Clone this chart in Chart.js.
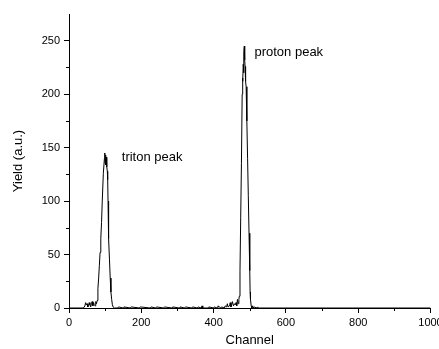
<!DOCTYPE html>
<html>
<head>
<meta charset="utf-8">
<script src="https://cdn.jsdelivr.net/npm/chart.js@4/dist/chart.umd.min.js"></script>
<style>
  html, body { margin: 0; padding: 0; background: #fff; }
  #wrap { width: 439px; height: 349px; }
</style>
</head>
<body>
<div id="wrap"><canvas id="myChart" width="439" height="349"></canvas></div>
<script>
// spectrum (channel, yield)
const channels = [
  0, 40, 44, 46, 48, 50, 52, 54, 56, 58, 60, 62, 64, 66, 68, 70, 72, 74, 76, 78,
  80, 82, 84, 86, 88, 90, 92, 95, 98, 99, 100, 101, 102, 103, 104, 105, 106, 107, 108, 109,
  110, 112, 114, 116, 118, 120, 122, 126, 135, 137, 150, 152, 170, 172, 195, 197, 225, 227, 240, 242,
  262, 264, 285, 287, 305, 307, 320, 322, 340, 342, 355, 357, 366, 368, 370, 385, 387, 400, 402, 410,
  412, 420, 422, 430, 432, 436, 438, 440, 444, 446, 448, 450, 452, 455, 458, 460, 462, 464, 466, 468,
  470, 471, 473, 475, 477, 479, 480, 481, 482, 483, 484, 485, 486, 487, 488, 489, 490, 492, 494, 496,
  498, 500, 501, 502, 504, 506, 508, 510, 512, 520, 522, 524, 1000
];
const counts = [
  0, 0, 2, 5, 3, 4, 1, 2, 5, 3, 1, 4, 6, 2, 5, 3, 2, 6, 4, 7,
  18, 28, 40, 52, 65, 80, 100, 126, 140, 145, 136, 143, 134, 141, 137, 132, 128, 120, 100, 80,
  65, 45, 28, 15, 8, 3, 1, 0, 0, 1, 0, 1, 0, 1, 0, 1, 0, 1, 0, 1,
  0, 1, 0, 1, 0, 1, 0, 1, 0, 1, 0, 1, 0, 2, 0, 0, 1, 0, 1, 0,
  2, 0, 1, 0, 2, 1, 4, 1, 2, 5, 1, 3, 6, 2, 4, 3, 5, 2, 8, 4,
  8, 11, 35, 85, 135, 200, 215, 212, 228, 220, 240, 245, 232, 226, 218, 212, 207, 175, 140, 105,
  70, 35, 15, 8, 2, 0, 2, 0, 1, 0, 1, 0, 0
];

const xTicksMinor = [100, 300, 500, 700, 900];
const yTicksMinor = [25, 75, 125, 175, 225];

const noteTexts = ['triton peak', 'proton peak'];
const noteX = [146, 513];
const noteY = [141, 239];

const points = channels.map((c, i) => ({ x: c, y: counts[i] }));

Chart.defaults.font.family = '"Liberation Sans", Arial, sans-serif';
Chart.defaults.color = '#000';

const extras = {
  id: 'extras',
  afterDraw(chart) {
    const ctx = chart.ctx;
    const xs = chart.scales.x, ys = chart.scales.y;
    ctx.save();
    ctx.strokeStyle = '#000';
    ctx.lineWidth = 1;
    ctx.beginPath();
    xTicksMinor.forEach(v => {
      const px = Math.round(xs.getPixelForValue(v)) + 0.5;
      ctx.moveTo(px, xs.top);
      ctx.lineTo(px, xs.top + 3);
    });
    yTicksMinor.forEach(v => {
      const py = Math.round(ys.getPixelForValue(v)) + 0.5;
      ctx.moveTo(ys.right, py);
      ctx.lineTo(ys.right - 3, py);
    });
    ctx.stroke();
    ctx.fillStyle = '#000';
    ctx.font = '13px "Liberation Sans", Arial, sans-serif';
    ctx.textAlign = 'left';
    ctx.textBaseline = 'middle';
    noteTexts.forEach((t, i) => {
      ctx.fillText(t, xs.getPixelForValue(noteX[i]), ys.getPixelForValue(noteY[i]));
    });
    ctx.restore();
  }
};

const ctx = document.getElementById('myChart').getContext('2d');
const chart = new Chart(ctx, {
  type: 'line',
  data: {
    datasets: [{
      data: points,
      borderColor: '#000',
      borderWidth: 1,
      pointRadius: 0,
      tension: 0,
      fill: false
    }]
  },
  options: {
    responsive: false,
    animation: false,
    layout: { padding: { left: 11, top: 14, right: 8.5, bottom: 0 } },
    plugins: { legend: { display: false }, tooltip: { enabled: false } },
    scales: {
      x: {
        type: 'linear',
        min: 0,
        max: 1000,
        ticks: { stepSize: 200, padding: 3, font: { size: 11 }, maxRotation: 0, callback: v => String(v) },
        grid: { drawOnChartArea: false, tickLength: 5, tickColor: '#000' },
        border: { display: true, color: '#000', width: 1 },
        title: { display: true, text: 'Channel', font: { size: 13 }, padding: { top: 0, bottom: 1 } },
        afterFit(scale) {
          scale.height = 41;
          scale.paddingLeft = 0;
          scale.paddingRight = 0;
        }
      },
      y: {
        min: 0,
        max: 275,
        ticks: {
          stepSize: 50,
          padding: 4,
          font: { size: 11 },
          callback: v => (v % 50 === 0 ? String(v) : '')
        },
        grid: {
          drawOnChartArea: false,
          tickLength: 5,
          tickColor: c => (c.tick && c.tick.value % 50 === 0 ? '#000' : 'rgba(0,0,0,0)')
        },
        border: { display: true, color: '#000', width: 1 },
        title: { display: true, text: 'Yield (a.u.)', font: { size: 13 }, padding: 0 },
        afterFit(scale) {
          scale.width = 58;
          scale.paddingTop = 0;
          scale.paddingBottom = 0;
        }
      }
    }
  },
  plugins: [extras]
});
</script>
</body>
</html>
